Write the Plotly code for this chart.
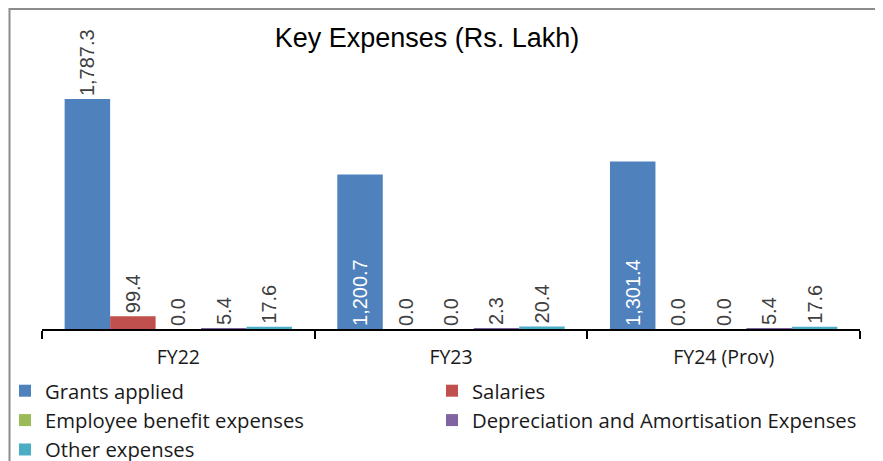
import plotly.graph_objects as go

categories = ["FY22", "FY23", "FY24 (Prov)"]
series_names = ["Grants applied", "Salaries", "Employee benefit expenses",
                "Depreciation and Amortisation Expenses", "Other expenses"]
grants = [1787.3, 1200.7, 1301.4]
salaries = [99.4, 0.0, 0.0]
employee = [0.0, 0.0, 0.0]
depreciation = [5.4, 2.3, 5.4]
other = [17.6, 20.4, 17.6]

colors = ["#4F81BD", "#C0504D", "#9BBB59", "#8064A2", "#4BACC6"]
values = [grants, salaries, employee, depreciation, other]
legend_ids = ["legend", "legend2", "legend", "legend2", "legend"]

W, H = 883, 461
OFF = 8  # page body margin offset
ML, MT = 42 - OFF, 10 - OFF
PW, PH = 818, 319
MR = W - ML - PW
MB = H - MT - PH


def px_x(x):
    return (x - OFF - ML) / PW


def px_y(y):
    return (H - MB - (y - OFF)) / PH


label_font = dict(family="Liberation Sans, Arial, sans-serif", size=20, color="#404040")
legend_font = dict(family="Open Sans, sans-serif", size=20.3, color="#1a1a1a")

fig = go.Figure()
for i, (name, vals) in enumerate(zip(series_names, values)):
    if i == 0:
        tp = ["outside", "inside", "inside"]
    else:
        tp = "outside"
    fig.add_trace(go.Bar(
        x=categories, y=vals, name=name,
        marker=dict(color=colors[i], line=dict(width=0)),
        texttemplate="%{y:,.1f}", textposition=tp, textangle=-90,
        insidetextanchor="start",
        outsidetextfont=label_font,
        insidetextfont=dict(family=label_font["family"], size=20, color="white"),
        constraintext="none",
        cliponaxis=False,
        legend=legend_ids[i],
        legendgroup=name,
        hoverinfo="skip",
    ))

fig.update_layout(
    width=W, height=H,
    margin=dict(l=ML, r=MR, t=MT, b=MB, autoexpand=False),
    paper_bgcolor="white", plot_bgcolor="white",
    barmode="group", bargap=0.166, bargroupgap=0,
    title=dict(text="Key Expenses (Rs. Lakh)", xref="container", x=(427 - OFF) / W,
               xanchor="center", yref="container", y=1 - (38 - OFF) / H, yanchor="middle",
               font=dict(family="Liberation Sans, Arial, sans-serif", size=27, color="#000000")),
    xaxis=dict(showline=True, linecolor="#000000", linewidth=1.5,
               ticks="outside", tickson="boundaries", ticklen=8, tickwidth=1.5,
               tickcolor="#000000", showgrid=False, ticklabelstandoff=10,
               tickfont=dict(family="Open Sans, sans-serif", size=19.5, color="#1a1a1a")),
    yaxis=dict(visible=False, range=[0, 2480], showgrid=False, zeroline=False),
    legend=dict(orientation="v", x=px_x(5), xanchor="left", y=px_y(371), yanchor="top",
                font=legend_font, bgcolor="rgba(0,0,0,0)", tracegroupgap=0,
                itemclick=False, itemdoubleclick=False),
    legend2=dict(orientation="v", x=px_x(432), xanchor="left", y=px_y(371), yanchor="top",
                 font=legend_font, bgcolor="rgba(0,0,0,0)", tracegroupgap=0,
                 itemclick=False, itemdoubleclick=False),
    showlegend=True,
    shapes=[dict(type="rect", xref="paper", yref="paper",
                 x0=px_x(9.5), x1=px_x(W + 20), y0=px_y(H + 20), y1=px_y(9),
                 line=dict(color="#8c8c8c", width=2), fillcolor="rgba(0,0,0,0)",
                 layer="below")],
)

fig.write_html("out.html")
